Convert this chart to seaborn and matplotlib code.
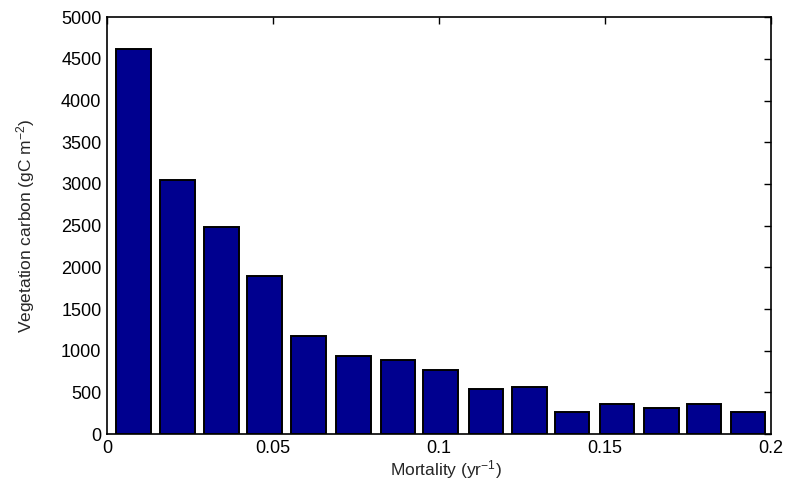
import matplotlib
matplotlib.use("Agg")
import matplotlib.pyplot as plt
import seaborn as sns
import pandas as pd

mortality = [0.0080, 0.0212, 0.0345, 0.0474, 0.0607, 0.0743, 0.0876, 0.1005,
             0.1141, 0.1272, 0.1400, 0.1536, 0.1670, 0.1798, 0.1930]
veg_carbon = [4620, 3050, 2480, 1900, 1180, 935, 890, 770,
              545, 565, 265, 360, 315, 360, 265]
x_ticks = [0, 0.05, 0.1, 0.15, 0.2]
x_tick_labels = ["0", "0.05", "0.1", "0.15", "0.2"]
y_ticks = [0, 500, 1000, 1500, 2000, 2500, 3000, 3500, 4000, 4500, 5000]

df = pd.DataFrame({"mortality": mortality, "carbon": veg_carbon})

sns.set_style("white")
plt.rcParams["font.family"] = ["Liberation Sans", "DejaVu Sans"]
plt.rcParams["mathtext.fontset"] = "custom"
plt.rcParams["mathtext.rm"] = "Liberation Sans"
plt.rcParams["mathtext.it"] = "Liberation Sans"

fig = plt.figure(figsize=(7.9, 4.9), dpi=100)
ax = fig.add_axes([0.1354, 0.114, 0.8406, 0.851])

sns.barplot(data=df, x="mortality", y="carbon", native_scale=True,
            color="#00008f", saturation=1, width=0.81,
            edgecolor="black", linewidth=1.4, ax=ax)

ax.set_xlim(0, 0.2)
ax.set_ylim(0, 5000)
ax.set_xticks(x_ticks)
ax.set_xticklabels(x_tick_labels)
ax.set_yticks(y_ticks)
ax.tick_params(direction="in", length=5, width=1, top=True, right=True,
               labelsize=13, colors="black", pad=4)
for s in ax.spines.values():
    s.set_visible(True)
    s.set_color("black")
    s.set_linewidth(1.2)
ax.set_xlabel("Mortality (yr$^{-1}$)", fontsize=12.5)
ax.set_ylabel("Vegetation carbon (gC m$^{-2}$)", fontsize=12.5)
ax.yaxis.set_label_coords(-0.105, 0.5)
ax.xaxis.set_label_coords(0.51, -0.058)

fig.savefig("out.png", dpi=100)
